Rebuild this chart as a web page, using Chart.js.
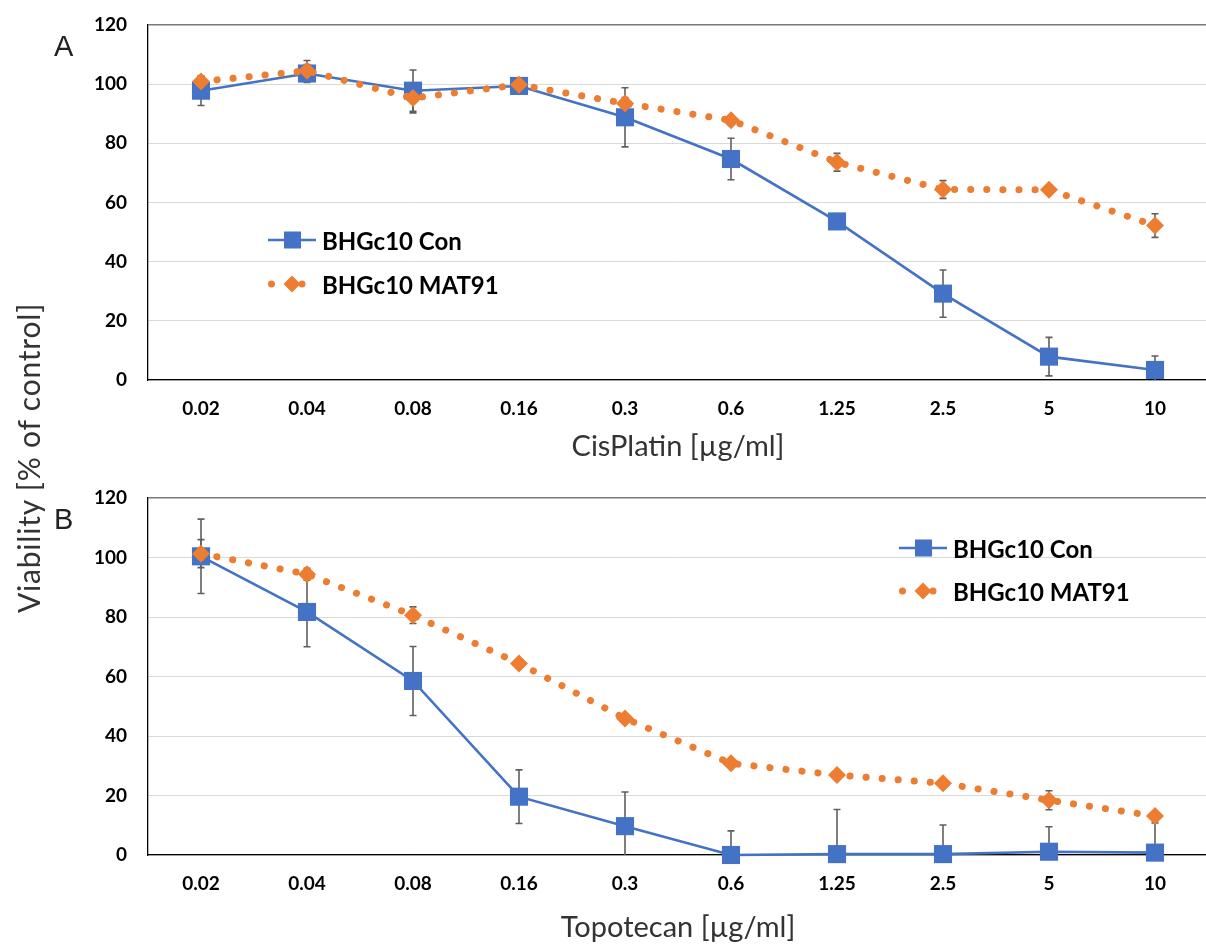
<!DOCTYPE html>
<html>
<head>
<meta charset="utf-8">
<script src="https://cdn.jsdelivr.net/npm/chart.js@4.4.1/dist/chart.umd.min.js"></script>
<style>
  body { margin: 0; width: 1206px; height: 946px; background: #fff; position: relative; overflow: hidden; font-family: Lato, sans-serif; }
  .box { position: absolute; left: 0; width: 1220px; }
  .letter { position: absolute; font-family: "Liberation Sans", Arial, sans-serif; font-size: 29px; color: #222; line-height: 30px; }
  .ytitle { position: absolute; left: -172px; top: 443px; width: 400px; height: 30px; line-height: 30px; text-align: center;
            font-size: 30px; letter-spacing: 0.8px; color: #333; transform: rotate(-90deg); }
  .leg { position: absolute; height: 30px; display: flex; align-items: center; font-weight: bold; font-size: 24px; color: #000; }
  .leg svg { margin-right: 6px; }
</style>
</head>
<body>
<div class="box" style="top:0;height:470px"><canvas id="chartA"></canvas></div>
<div class="box" style="top:470px;height:476px"><canvas id="chartB"></canvas></div>

<div class="letter" style="left:54px;top:31px">A</div>
<div class="letter" style="left:54px;top:504px">B</div>
<div class="ytitle">Viability [% of control]</div>

<div class="leg" style="left:268px;top:225px">
  <svg width="48" height="20"><line x1="0" y1="10" x2="48" y2="10" stroke="#4472C4" stroke-width="2.5"/><rect x="16" y="1.5" width="17" height="17" fill="#4472C4"/></svg>BHGc10 Con</div>
<div class="leg" style="left:268px;top:269px">
  <svg width="48" height="20"><circle cx="3.5" cy="10" r="3.5" fill="#ED7D31"/><polygon points="24,1.5 32.5,10 24,18.5 15.5,10" fill="#ED7D31"/><circle cx="34" cy="10" r="3.5" fill="#ED7D31"/></svg>BHGc10 MAT91</div>

<div class="leg" style="left:899px;top:533px">
  <svg width="48" height="20"><line x1="0" y1="10" x2="48" y2="10" stroke="#4472C4" stroke-width="2.5"/><rect x="16" y="1.5" width="17" height="17" fill="#4472C4"/></svg>BHGc10 Con</div>
<div class="leg" style="left:899px;top:576px">
  <svg width="48" height="20"><circle cx="3.5" cy="10" r="3.5" fill="#ED7D31"/><polygon points="24,1.5 32.5,10 24,18.5 15.5,10" fill="#ED7D31"/><circle cx="34" cy="10" r="3.5" fill="#ED7D31"/></svg>BHGc10 MAT91</div>

<script>
// concentrations (same for both panels)
const doses = ['0.02', '0.04', '0.08', '0.16', '0.3', '0.6', '1.25', '2.5', '5', '10'];
const yTicksMax = 120;
const yTicksStep = 20;

// panel A - CisPlatin
const cisCon = [97.8, 103.6, 97.8, 99.4, 88.8, 74.7, 53.6, 29.2, 7.9, 3.4];
const cisConErr = [5, 3, 7, 2, 10, 7, 1.5, 8, 6.5, 4.7];
const cisMat = [100.9, 104.5, 95.3, 99.8, 93.5, 87.8, 73.6, 64.4, 64.3, 52.2];
const cisMatErr = [1.5, 3.5, 5, 1.5, 2, 1.5, 3, 3, 1.5, 4];

// panel B - Topotecan
const topoCon = [100.4, 81.7, 58.5, 19.6, 9.7, 0, 0.3, 0.3, 1.1, 0.8];
const topoConErr = [12.5, 11.7, 11.6, 9, 11.5, 8.1, 15, 9.8, 8.4, 10];
const topoMat = [101.3, 94.4, 80.6, 64.4, 45.9, 30.8, 26.9, 24.1, 18.4, 13.1];
const topoMatErr = [4.7, 2, 2.8, 1, 1, 1, 1, 1, 3.2, 1];

const blue = '#4472C4';
const orange = '#ED7D31';

// draws +/- error bars under the markers
const errorBars = {
  id: 'errorBars',
  beforeDatasetsDraw(chart) {
    const ctx = chart.ctx;
    const y = chart.scales.y;
    ctx.save();
    ctx.strokeStyle = '#5f5f5f';
    ctx.lineWidth = 1.6;
    chart.data.datasets.forEach((ds, i) => {
      const meta = chart.getDatasetMeta(i);
      meta.data.forEach((pt, j) => {
        const e = ds.errors[j];
        if (!e) return;
        const top = y.getPixelForValue(ds.data[j] + e);
        const lowRaw = y.getPixelForValue(ds.data[j] - e);
        const low = Math.min(lowRaw, y.bottom);
        ctx.beginPath();
        ctx.moveTo(pt.x, top); ctx.lineTo(pt.x, low);
        ctx.moveTo(pt.x - 3.5, top); ctx.lineTo(pt.x + 3.5, top);
        if (lowRaw <= y.bottom) { ctx.moveTo(pt.x - 3.5, low); ctx.lineTo(pt.x + 3.5, low); }
        ctx.stroke();
      });
    });
    ctx.restore();
  }
};

function makeChart(id, con, conErr, mat, matErr, title, pad, xHeight, titlePad) {
  return new Chart(document.getElementById(id), {
    type: 'line',
    data: {
      labels: doses,
      datasets: [
        {
          label: 'BHGc10 Con', data: con, errors: conErr, order: 1,
          borderColor: blue, backgroundColor: blue, borderWidth: 2.6,
          pointStyle: 'rect', pointRadius: 12.8, pointHoverRadius: 12.8,
          pointBorderWidth: 0, clip: false
        },
        {
          label: 'BHGc10 MAT91', data: mat, errors: matErr, order: 0,
          borderColor: orange, backgroundColor: orange, borderWidth: 7,
          borderDash: [0.1, 16], borderCapStyle: 'round',
          pointStyle: 'rectRot', pointRadius: 9, pointHoverRadius: 9,
          pointBorderWidth: 0, clip: false
        }
      ]
    },
    options: {
      responsive: true,
      maintainAspectRatio: false,
      animation: false,
      events: [],
      layout: { padding: pad, autoPadding: false },
      plugins: { legend: { display: false }, tooltip: { enabled: false } },
      scales: {
        x: {
          offset: true,
          grid: { display: false },
          border: { display: true, color: '#000', width: 1.3 },
          ticks: { color: '#000', font: { family: 'Lato', size: 19, weight: 'bold' }, padding: 9, maxRotation: 0 },
          title: { display: true, text: title, color: '#333', font: { family: 'Lato', size: 29 }, padding: { top: 0, bottom: titlePad } },
          afterFit(s) { s.height = xHeight; s.paddingLeft = 0; s.paddingRight = 0; }
        },
        y: {
          min: 0, max: yTicksMax,
          grid: {
            drawTicks: false,
            color: c => c.tick && c.tick.value === yTicksMax ? '#7a7a7a' : '#d9d9d9',
            lineWidth: c => c.tick && c.tick.value === yTicksMax ? 1.6 : 1
          },
          border: { display: true, color: '#000', width: 1.3 },
          ticks: { stepSize: yTicksStep, color: '#000', font: { family: 'Lato', size: 19, weight: 'bold' }, padding: 21 },
          afterFit(s) { s.width = 148; s.paddingTop = 0; s.paddingBottom = 0; }
        }
      }
    },
    plugins: [errorBars]
  });
}

makeChart('chartA', cisCon, cisConErr, cisMat, cisMatErr, 'CisPlatin [µg/ml]', { top: 25, left: 0, right: 12, bottom: 5 }, 85, 0.6);
makeChart('chartB', topoCon, topoConErr, topoMat, topoMatErr, 'Topotecan [µg/ml]', { top: 28, left: 0, right: 12, bottom: 0 }, 91, 0.6);
</script>
</body>
</html>
